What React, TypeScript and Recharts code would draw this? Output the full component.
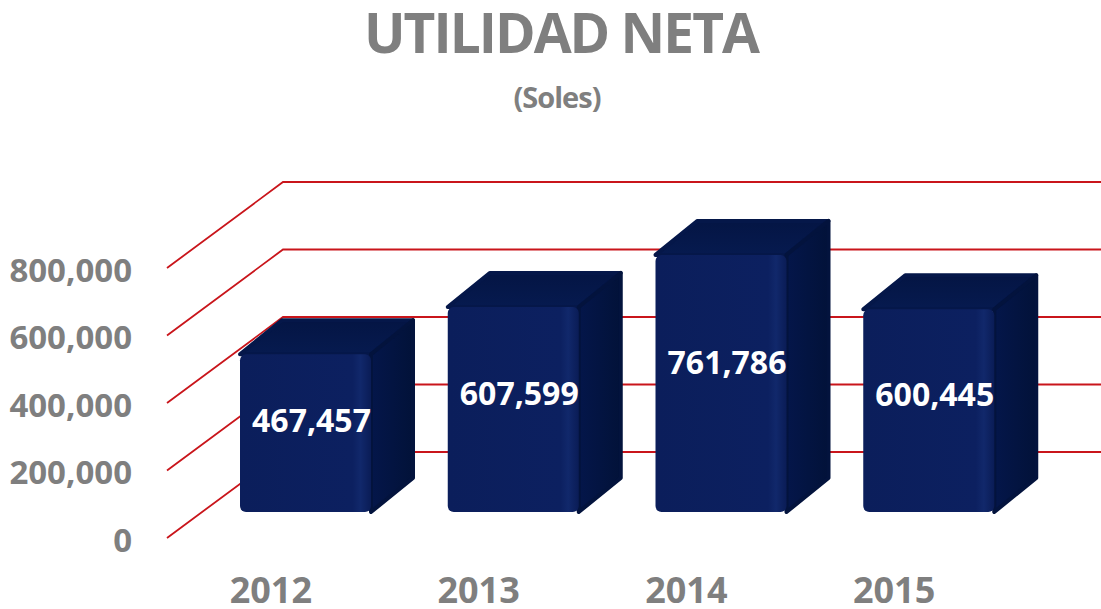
import React from "react"
import { Bar, BarChart, CartesianGrid, LabelList, XAxis, YAxis } from "recharts"

const years = ["2012", "2013", "2014", "2015"]
const utilidad = [467457, 607599, 761786, 600445]
const yTicks = [0, 200000, 400000, 600000, 800000]

const data = years.map((year, i) => ({ year, value: utilidad[i] }))

const W = 1101
const H = 609
const GRAY = "#7f7f7f"
const RED = "#c9151b"
const FONT = "'Open Sans', sans-serif"

// 3d projection: full floor depth, where the bars sit, and the bar depth
const WALL = { dx: 116, dy: 86 }
const FRONT = { dx: 35, dy: 26 }
const DEPTH = { dx: 42, dy: 34 }

const fmt = (v: number) => v.toLocaleString("en-US")

const GridLine = (props: any) => {
  const { x1, y1 } = props
  const bx = x1 + WALL.dx
  const by = y1 - WALL.dy
  return (
    <polyline
      points={`${x1},${y1} ${bx},${by} ${W},${by}`}
      fill="none"
      stroke={RED}
      strokeWidth={1.8}
    />
  )
}

const Box = (props: any) => {
  const { x, y, width: w, height: h } = props
  if (h == null || w == null) return null
  const X = x + FRONT.dx
  const Y = y - FRONT.dy
  const { dx, dy } = DEPTH
  return (
    <g strokeLinejoin="round">
      <polygon
        points={`${X},${Y} ${X + dx},${Y - dy} ${X + w + dx},${Y - dy} ${X + w},${Y}`}
        fill="url(#topFace)"
        stroke="#051749"
        strokeWidth={4}
      />
      <polygon
        points={`${X + w},${Y} ${X + w + dx},${Y - dy} ${X + w + dx},${Y + h - dy} ${X + w},${Y + h}`}
        fill="url(#sideFace)"
        stroke="#03133d"
        strokeWidth={4}
      />
      <rect x={X} y={Y} width={w} height={h} rx={6} fill="url(#frontFace)" />
    </g>
  )
}

const ValueLabel = (props: any) => {
  const { x, y, width: w, height: h, value } = props
  const bottom = y + h - FRONT.dy
  return (
    <text
      x={x + FRONT.dx + w / 2 + 6}
      y={bottom - h * 0.585}
      textAnchor="middle"
      dominantBaseline="central"
      fill="#ffffff"
      fontFamily={FONT}
      fontWeight={700}
      fontSize={32}
    >
      {fmt(value)}
    </text>
  )
}

const YTick = (props: any) => {
  const { y, payload } = props
  return (
    <text
      x={132}
      y={y + 1}
      textAnchor="end"
      dominantBaseline="central"
      fill={GRAY}
      fontFamily={FONT}
      fontWeight={700}
      fontSize={33}
    >
      {fmt(payload.value)}
    </text>
  )
}

const XTick = (props: any) => {
  const { x, payload } = props
  return (
    <text
      x={x}
      y={589}
      textAnchor="middle"
      dominantBaseline="central"
      fill={GRAY}
      fontFamily={FONT}
      fontWeight={700}
      fontSize={36}
    >
      {payload.value}
    </text>
  )
}

export default function App() {
  return (
    <div style={{ position: "relative", width: W, height: H, background: "#fff" }}>
      <style>{`body{margin:0}`}</style>
      <BarChart
        width={W}
        height={H}
        data={data}
        margin={{ top: 268, right: 103, bottom: 0, left: 0 }}
      >
        <defs>
          <linearGradient id="frontFace" x1="0" y1="0" x2="1" y2="0">
            <stop offset="0" stopColor="#0b1e5b" />
            <stop offset="0.86" stopColor="#0c2060" />
            <stop offset="0.92" stopColor="#11286b" />
            <stop offset="1" stopColor="#0a1c56" />
          </linearGradient>
          <linearGradient id="topFace" x1="0" y1="1" x2="0" y2="0">
            <stop offset="0" stopColor="#061a4f" />
            <stop offset="1" stopColor="#041544" />
          </linearGradient>
          <linearGradient id="sideFace" x1="0" y1="0" x2="1" y2="0">
            <stop offset="0" stopColor="#04164a" />
            <stop offset="1" stopColor="#021239" />
          </linearGradient>
        </defs>
        <CartesianGrid horizontal={GridLine} vertical={false} />
        <XAxis
          dataKey="year"
          axisLine={false}
          tickLine={false}
          height={71}
          tick={XTick}
          interval={0}
        />
        <YAxis
          domain={[0, 800000]}
          ticks={yTicks}
          axisLine={false}
          tickLine={false}
          width={167}
          tick={YTick}
          interval={0}
        />
        <Bar dataKey="value" barSize={131} shape={Box} isAnimationActive={false}>
          <LabelList dataKey="value" content={ValueLabel} />
        </Bar>
      </BarChart>
      <svg
        width={W}
        height={130}
        style={{ position: "absolute", left: 0, top: 0, pointerEvents: "none" }}
      >
        <text
          x={561}
          y={53}
          textAnchor="middle"
          fill={GRAY}
          fontFamily={FONT}
          fontWeight={700}
          fontSize={55}
          letterSpacing={-2}
        >
          UTILIDAD NETA
        </text>
        <text
          x={557}
          y={108}
          textAnchor="middle"
          fill={GRAY}
          fontFamily={FONT}
          fontWeight={700}
          fontSize={29}
          letterSpacing={-1}
        >
          (Soles)
        </text>
      </svg>
    </div>
  )
}
